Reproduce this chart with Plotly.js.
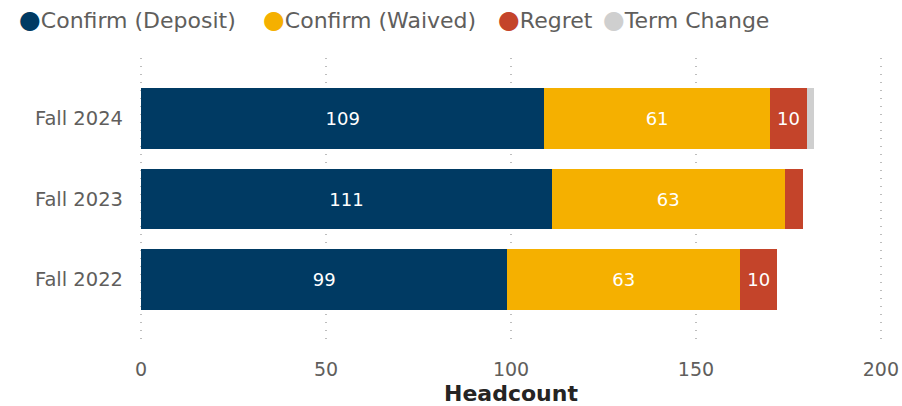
<!DOCTYPE html>
<html>
<head>
<meta charset="utf-8">
<script src="https://cdn.plot.ly/plotly-3.0.1.min.js"></script>
<style>html,body{margin:0;padding:0;background:#fff;}#chart{width:902px;height:406px;}</style>
</head>
<body>
<div id="chart"></div>
<script>
const categories = ["Fall 2022", "Fall 2023", "Fall 2024"];
const confirmDeposit = [99, 111, 109];
const confirmWaived = [63, 63, 61];
const regret = [10, 5, 10];
const termChange = [0, 0, 2];
const seriesNames = ["Confirm (Deposit)", "Confirm (Waived)", "Regret", "Term Change"];
const seriesColors = ["#003A63", "#F5B000", "#C4442A", "#CFCFCF"];
const seriesValues = [confirmDeposit, confirmWaived, regret, termChange];
const xTicks = [0, 50, 100, 150, 200];

const font = "'DejaVu Sans', sans-serif";
const traces = seriesValues.map((vals, i) => ({
  type: "bar", orientation: "h", y: categories, x: vals,
  name: seriesNames[i],
  marker: {color: seriesColors[i], line: {width: 0}},
  text: vals.map(v => v >= 8 ? String(v) : ""),
  textposition: "inside", insidetextanchor: "middle",
  textfont: {color: "#ffffff", size: 18, family: font},
  constraintext: "none",
  hoverinfo: "x+name"
}));

// legend drawn as text items (circle marker + name)
const legendX = [17, 261, 496, 601]; // pixel starts of legend items
const plotLeft = 140, plotWidth = 742;
const annotations = seriesNames.map((n, i) => ({
  xref: "paper", yref: "paper",
  x: (legendX[i] - plotLeft) / plotWidth, y: 1 + (58 - 20) / 282,
  xanchor: "left", yanchor: "middle", showarrow: false,
  text: '<span style="color:' + seriesColors[i] + ';font-size:25px">●</span>' + n,
  font: {family: font, size: 22, color: "#605E5C"}
}));

const layout = {
  width: 902, height: 406,
  margin: {l: 140, r: 20, t: 58, b: 66},
  barmode: "stack", bargap: 0.25,
  paper_bgcolor: "#ffffff", plot_bgcolor: "#ffffff",
  font: {family: font, color: "#605E5C"},
  showlegend: false,
  annotations: annotations,
  xaxis: {
    range: [-0.3, 200.3], tickvals: xTicks, ticktext: xTicks.map(String),
    showgrid: true, gridcolor: "#BDBDBD", griddash: "1px,7px", gridwidth: 1.5,
    zeroline: false, showline: false, ticks: "",
    ticklabelstandoff: 16,
    tickfont: {size: 19, color: "#605E5C", family: font},
    title: {text: "Headcount", font: {size: 22, color: "#252423", family: font, weight: 600}, standoff: 8}
  },
  yaxis: {
    categoryorder: "array", categoryarray: categories,
    range: [-0.75, 2.75],
    showgrid: false, zeroline: false, showline: false, ticks: "",
    ticklabelstandoff: 16,
    tickfont: {size: 19.5, color: "#605E5C", family: font}
  }
};
Plotly.newPlot("chart", traces, layout, {displayModeBar: false, staticPlot: true});
</script>
</body>
</html>
